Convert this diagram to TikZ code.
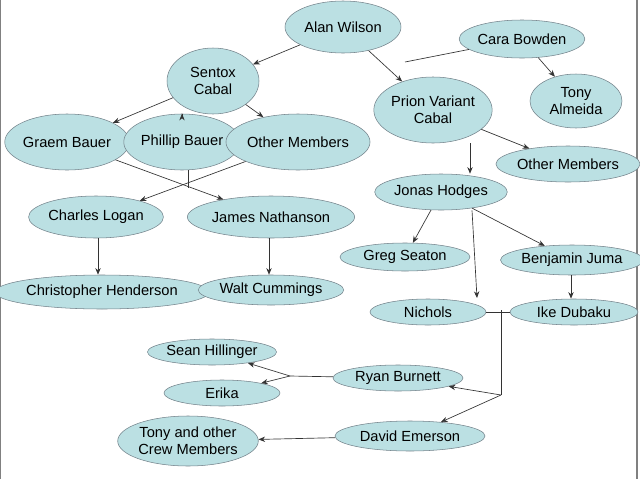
\documentclass[tikz,border=0pt]{standalone}
\usepackage{fontspec}
\setmainfont{Liberation Sans}
\usetikzlibrary{shapes.geometric,arrows.meta,calc}
\begin{document}
\begin{tikzpicture}[x=0.75pt,y=-0.75pt,
  el/.style={ellipse,draw=black!55!cyan!40!gray,fill={rgb,255:red,187;green,224;blue,227},inner sep=0pt,font=\fontsize{11}{12.5}\selectfont,align=center},
  arr/.style={draw=black!80,-{Stealth[length=5pt,width=4pt]},line width=0.5pt},
  ln/.style={draw=black!80,line width=0.5pt}]
\useasboundingbox (0,0) rectangle (640,479);
\draw[gray,line width=0.8pt] (0.5,0)--(0.5,479) (637,0)--(637,479);
\def\E#1#2#3#4#5#6{\node[el,minimum width=#4*0.75pt,minimum height=#5*0.75pt] (#1) at (#2,#3) {#6};}
\E{alan}{343}{27}{116}{52}{Alan Wilson}
\E{cara}{522}{39}{106}{38}{Cara Bowden}
\E{sentox}{213}{81}{92}{66}{Sentox\\Cabal}
\E{tony}{576}{101}{92}{54}{Tony\\Almeida}
\E{prion}{433}{110}{112}{66}{Prion Variant\\Cabal}
\E{graem}{67}{142}{106}{56}{Graem Bauer}
\E{phillip}{182}{142}{106}{56}{Phillip Bauer}
\E{otherl}{298}{142}{114}{56}{Other Members}
\E{otherr}{568}{164}{120}{36}{Other Members}
\E{jonas}{441}{192}{108}{36}{Jonas Hodges}
\E{charles}{96}{217}{128}{42}{Charles Logan}
\E{james}{271}{217}{146}{42}{James Nathanson}
\E{greg}{405}{257}{130}{28}{Greg Seaton}
\E{benjamin}{572}{260}{130}{30}{Benjamin Juma}
\E{chris}{102}{292}{180}{34}{Christopher Henderson}
\E{walt}{271}{290}{124}{30}{Walt Cummings}
\E{nichols}{428}{312}{116}{26}{Nichols}
\E{ike}{574}{312}{128}{26}{Ike Dubaku}
\E{sean}{212}{352}{126}{26}{Sean Hillinger}
\E{erika}{222}{393}{116}{26}{Erika}
\E{ryan}{398}{378}{130}{26}{Ryan Burnett}
\E{david}{410}{436}{150}{30}{David Emerson}
\E{crew}{188}{441}{136}{50}{Tony and other\\Crew Members}
\coordinate (j1) at (405,62);
\coordinate (j2) at (188,188);
\coordinate (j3) at (501,310);
\coordinate (j4) at (501,395);
\coordinate (j5) at (290,376);
\draw[arr] (alan) -- (sentox);
\draw[arr] (alan) -- (prion);
\draw[ln] (cara) -- (j1);
\draw[arr] (cara) -- (tony);
\draw[arr] (sentox) -- (graem);
\draw[arr] (sentox.south -| phillip) -- (phillip);
\draw[arr] (sentox) -- (otherl);
\draw[arr] (graem) -- (james);
\draw[arr] (otherl) -- (charles);
\draw[ln] (phillip.south -| j2) -- (j2);
\draw[arr] (charles.south -| 98,0) -- (chris.north -| 98,0);
\draw[arr] (james.south -| 269,0) -- (walt.north -| 269,0);
\draw[arr] (prion.south -| 470,0) -- (jonas.north -| 470,0);
\draw[arr] (prion) -- (otherr);
\draw[arr] (jonas) -- (greg);
\draw[arr] (jonas) -- (benjamin);
\draw[arr] (jonas.south -| 472,0) -- (477,298);
\draw[arr] (benjamin.south -| 571,0) -- (ike.north -| 571,0);
\draw[ln] (nichols) -- (ike);
\draw[ln] (j3) -- (j4);
\draw[arr] (j4) -- (ryan);
\draw[arr] (j4) -- (david);
\draw[ln] (ryan) -- (j5);
\draw[arr] (j5) -- (sean);
\draw[arr] (j5) -- (erika);
\draw[arr] (david) -- (crew);
\end{tikzpicture}
\end{document}
